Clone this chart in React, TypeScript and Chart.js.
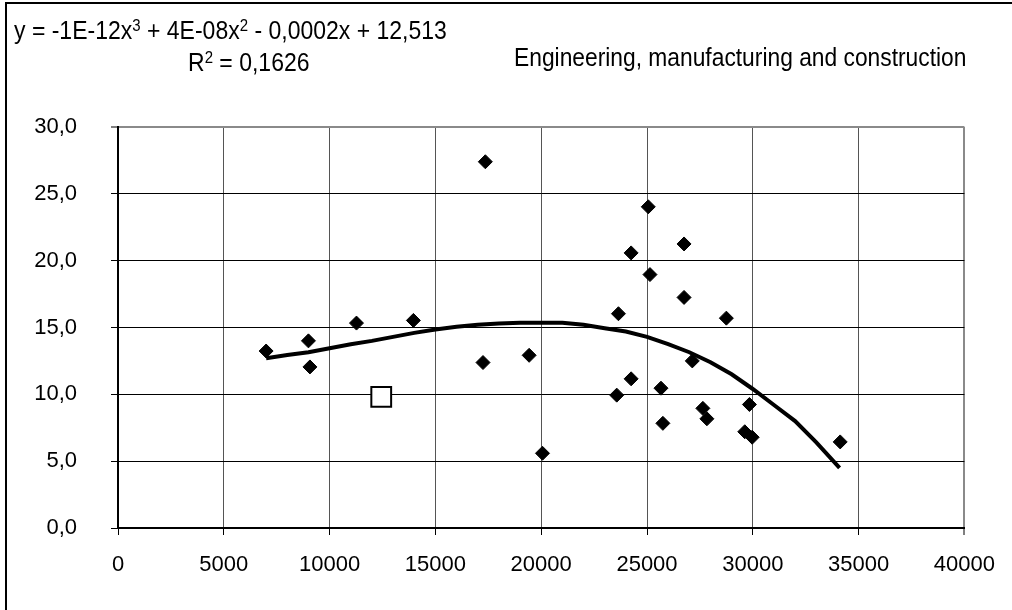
import React, { useEffect, useRef } from "react";
import { Chart, registerables } from "chart.js";

Chart.register(...registerables);

const pointX = [7000, 9000, 9070, 11270, 13960, 17250, 17360, 19430, 20060, 23570, 23650, 24250, 24250, 25060, 25140, 25660, 25750, 26750, 26750, 27140, 27640, 27830, 28750, 29620, 29840, 29970, 34130];
const pointY = [13.24, 14.0, 12.05, 15.33, 15.53, 12.38, 27.4, 12.92, 5.59, 9.94, 16.03, 20.58, 11.16, 24.03, 18.96, 10.46, 7.83, 21.25, 17.25, 12.5, 8.95, 8.17, 15.7, 7.2, 9.24, 6.79, 6.44];

const highlightX = [12440];
const highlightY = [9.81];

const trendX = [7000, 8000, 9000, 10000, 11000, 12000, 13000, 14000, 15000, 16000, 17000, 18000, 19000, 20000, 21000, 22000, 23000, 24000, 25000, 26000, 27000, 28000, 29000, 30000, 31000, 32000, 33000, 34100];
const trendY = [12.7, 12.95, 13.15, 13.45, 13.75, 14.0, 14.3, 14.6, 14.85, 15.05, 15.2, 15.3, 15.35, 15.35, 15.35, 15.2, 14.95, 14.7, 14.3, 13.75, 13.15, 12.4, 11.5, 10.4, 9.2, 8.0, 6.4, 4.5];

const xTicks = [0, 5000, 10000, 15000, 20000, 25000, 30000, 35000, 40000];
const yTicks = [0, 5, 10, 15, 20, 25, 30];

const equationText = "y = -1E-12x";
const titleText = "Engineering, manufacturing and construction";

const FONT = '"Liberation Sans", Arial, sans-serif';

export default function App() {
  const canvasRef = useRef<HTMLCanvasElement | null>(null);

  useEffect(() => {
    const canvas = canvasRef.current;
    if (!canvas) return;
    const chart = new Chart(canvas, {
      type: "scatter",
      data: {
        datasets: [
          {
            type: "line",
            data: trendX.map((x, i) => ({ x, y: trendY[i] })),
            borderColor: "#000",
            borderWidth: 4,
            pointRadius: 0,
            fill: false,
            tension: 0,
            order: 0,
          },
          {
            data: highlightX.map((x, i) => ({ x, y: highlightY[i] })),
            pointStyle: "rect",
            pointRadius: 14,
            backgroundColor: "#fff",
            borderColor: "#000",
            pointBorderWidth: 2,
            order: 1,
          },
          {
            data: pointX.map((x, i) => ({ x, y: pointY[i] })),
            pointStyle: "rectRot",
            pointRadius: 7,
            backgroundColor: "#000",
            borderColor: "#000",
            pointBorderWidth: 1,
            order: 2,
          },
        ],
      },
      options: {
        animation: false,
        responsive: false,
        maintainAspectRatio: false,
        events: [],
        layout: { padding: { left: 0, top: 127, right: 45, bottom: 0 } },
        plugins: { legend: { display: false }, tooltip: { enabled: false }, title: { display: false } },
        scales: {
          x: {
            type: "linear",
            min: 0,
            max: 40000,
            afterBuildTicks: (axis: any) => {
              axis.ticks = xTicks.map((v) => ({ value: v }));
            },
            afterFit: (axis: any) => {
              axis.height = 82;
            },
            border: { color: "#000", width: 2 },
            grid: {
              color: (ctx: any) => (ctx.tick && ctx.tick.value === 40000 ? "#8a8a8a" : "#555"),
              lineWidth: (ctx: any) => (ctx.tick && ctx.tick.value === 40000 ? 2 : 1),
              tickColor: "#000",
              tickWidth: 1,
              tickLength: 7,
            },
            ticks: {
              color: "#000",
              padding: 17,
              maxRotation: 0,
              autoSkip: false,
              font: { family: FONT, size: 22 },
              callback: (v: any) => String(v),
            },
          },
          y: {
            type: "linear",
            min: 0,
            max: 30,
            afterBuildTicks: (axis: any) => {
              axis.ticks = yTicks.map((v) => ({ value: v }));
            },
            afterFit: (axis: any) => {
              axis.width = 118;
            },
            border: { color: "#000", width: 2 },
            grid: {
              color: (ctx: any) => (ctx.tick && ctx.tick.value === 30 ? "#8a8a8a" : "#000"),
              lineWidth: (ctx: any) => (ctx.tick && ctx.tick.value === 30 ? 2 : 1),
              tickColor: "#000",
              tickWidth: 1,
              tickLength: 7,
            },
            ticks: {
              color: "#000",
              padding: 34,
              autoSkip: false,
              font: { family: FONT, size: 22 },
              callback: (v: any) => Number(v).toFixed(1).replace(".", ","),
            },
          },
        },
      },
    });
    return () => chart.destroy();
  }, []);

  const textStyle: React.CSSProperties = {
    position: "absolute",
    fontFamily: FONT,
    fontSize: 23,
    lineHeight: "24px",
    color: "#000",
    whiteSpace: "nowrap",
    transform: "scaleY(1.12)",
    transformOrigin: "left center",
  };
  const supStyle: React.CSSProperties = { fontSize: 15, verticalAlign: 0, position: "relative", top: -7 };

  return (
    <div style={{ position: "fixed", left: 0, top: 0, width: 1012, height: 610, overflow: "hidden", background: "#fff" }}>
      <div
        style={{
          position: "absolute",
          left: 5,
          top: 2,
          width: 1100,
          height: 700,
          border: "2px solid #000",
          boxSizing: "border-box",
        }}
      />
      <canvas ref={canvasRef} width={1012} height={610} style={{ position: "absolute", left: 0, top: 0, width: 1012, height: 610 }} />
      <div style={{ ...textStyle, left: 14, top: 18 }}>
        {equationText}
        <span style={supStyle}>3</span>
        {" + 4E-08x"}
        <span style={supStyle}>2</span>
        {" - 0,0002x + 12,513"}
      </div>
      <div style={{ ...textStyle, left: 188, top: 50 }}>
        R<span style={supStyle}>2</span>
        {" = 0,1626"}
      </div>
      <div style={{ ...textStyle, left: 514, top: 45, fontSize: 22.8 }}>{titleText}</div>
    </div>
  );
}
